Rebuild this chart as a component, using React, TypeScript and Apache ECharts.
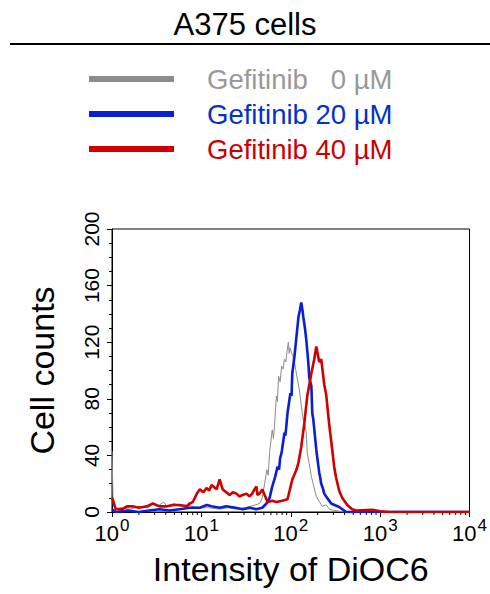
import React, { useEffect, useRef } from "react";
import * as echarts from "echarts";

const FONT = "'Liberation Sans', Arial, sans-serif";

const titleText = "A375 cells";
const xAxisTitle = "Intensity of DiOC6";
const yAxisTitle = "Cell counts";
const seriesNames = ["Gefitinib   0 µM", "Gefitinib 20 µM", "Gefitinib 40 µM"];
const seriesColors = ["#8c8c8c", "#0a1fd0", "#d00000"];
const legendTextColors = ["#999999", "#0033cc", "#cc0000"];

// [intensity, cell count]
const gray0: number[][] = [
  [1.0, 43], [1.03, 5], [1.1, 2], [1.3, 3], [1.6, 2], [2.0, 4], [2.5, 3], [2.9, 6], [3.1, 4], [3.4, 5],
  [3.8, 7], [4.1, 4], [4.4, 5], [5.0, 6], [5.7, 4], [6.9, 5], [8.0, 4], [9.6, 3], [12, 3], [16, 2],
  [20, 3], [25, 2], [30, 3], [35, 4], [40, 5], [45, 6], [48, 10], [51, 20], [54, 30], [56, 26], [58, 42],
  [62, 58], [64, 52], [66, 62], [69, 82], [71, 78], [73, 96], [76, 92], [79, 103], [82, 101], [85, 108], [88, 106],
  [91, 114], [94, 120], [96, 112], [98, 116], [101.5, 113], [106, 110], [108, 104], [110, 106], [114, 100], [118.5, 94],
  [125, 86], [131, 75], [138, 65], [142, 63], [149, 56], [153, 42], [161, 34], [170, 25],
  [178, 20], [193, 11], [210, 7], [225, 4], [249, 5], [270, 2], [291, 1.5], [320, 1], [376, 0],
  [10000, 0],
];

const blue20: number[][] = [
  [1.0, 2], [1.1, 0], [1.5, 1], [2.0, 0], [2.6, 1], [3.4, 2], [4.4, 1], [5.7, 2], [7.4, 3],
  [9.6, 3], [11.5, 5], [13, 4], [16, 3], [19, 4], [24, 3], [29, 2], [35, 3], [41, 2], [48, 3],
  [53.5, 6], [58, 10], [62, 18], [67, 25], [71, 32], [74, 30], [76, 38], [79, 42], [85, 56], [87, 54], [89, 60],
  [92, 70], [99, 84], [102, 82], [104, 98], [110, 110], [115, 122], [122, 138], [126, 142], [131, 148],
  [135, 143], [138, 138], [144, 130], [149, 122], [157, 106], [161, 95], [170, 89], [174, 70],
  [179, 65], [193, 44], [208, 28], [214, 24], [219, 20], [228, 17], [237, 13], [249, 11], [283, 6], [348, 3.5],
  [417, 0], [10000, 0],
];

const red40: number[][] = [
  [1.0, 10], [1.03, 8], [1.1, 2], [1.3, 2], [1.47, 4], [1.7, 4], [2.0, 3], [2.46, 4], [2.86, 6],
  [3.4, 4], [4.1, 4], [4.9, 5], [5.7, 5], [6.9, 4], [7.4, 6], [8.0, 7], [8.9, 13], [9.6, 16], [10.5, 14],
  [11.5, 17], [12.2, 15], [13, 19], [14.8, 16], [16, 23], [17.3, 16], [19, 14], [20.7, 12], [22.5, 14],
  [24.7, 13], [26.5, 11], [28.9, 12], [32, 13], [34.6, 11], [37, 13], [39.3, 16], [41.4, 18], [42.4, 12], [44.7, 13],
  [48, 16], [51, 12], [55, 7], [62, 8], [69, 7], [80, 8], [92, 9], [104, 23], [116, 30],
  [122, 35], [131, 46], [142, 63], [153, 82], [170, 98], [183, 108], [193, 117], [200, 112],
  [208, 106], [219, 108], [237, 90], [249, 83], [269, 62], [291, 44], [306, 32], [322, 24],
  [348, 15], [376, 10], [428, 5], [486, 2], [540, 1], [812, 1.5], [1000, 0.5], [1256, 0],
  [10000, 0],
];

const xMinorTicks = [
  2, 3, 4, 5, 6, 7, 8, 9,
  20, 30, 40, 50, 60, 70, 80, 90,
  200, 300, 400, 500, 600, 700, 800, 900,
  2000, 3000, 4000, 5000, 6000, 7000, 8000, 9000,
];

export default function App() {
  const ref = useRef<HTMLDivElement>(null);
  useEffect(() => {
    if (!ref.current) return;
    const chart = echarts.init(ref.current, null, { renderer: "svg" });
    const dataSets = [gray0, blue20, red40];
    const widths = [1, 2.6, 2.6];
    chart.setOption({
      animation: false,
      backgroundColor: "#ffffff",
      textStyle: { fontFamily: FONT },
      title: {
        text: titleText,
        left: "center",
        top: 4,
        textStyle: { fontSize: 31, fontWeight: "normal", color: "#000", fontFamily: FONT },
      },
      legend: {
        orient: "vertical",
        left: 84,
        top: 59,
        icon: "rect",
        itemWidth: 85,
        itemHeight: 6,
        itemGap: 5,
        textStyle: { fontSize: 27.5, fontFamily: FONT, padding: [0, 0, 0, 28], lineHeight: 30 },
        data: seriesNames.map((n, i) => ({ name: n, textStyle: { color: legendTextColors[i] } })),
      },
      graphic: [
        {
          type: "line",
          shape: { x1: 10, y1: 44, x2: 490, y2: 44 },
          style: { stroke: "#000", lineWidth: 2 },
        },
      ],
      grid: {
        left: 112,
        right: 18,
        top: 229,
        bottom: 82,
        show: true,
        borderColor: "#000",
        borderWidth: 1,
        backgroundColor: "transparent",
      },
      xAxis: {
        type: "log",
        logBase: 10,
        min: 1,
        max: 10000,
        name: xAxisTitle,
        nameLocation: "middle",
        nameGap: 40,
        nameTextStyle: { fontSize: 34, color: "#000", fontFamily: FONT },
        axisLine: { lineStyle: { color: "#000", width: 1 } },
        axisTick: { show: true, length: 5, lineStyle: { color: "#000" } },
        splitLine: { show: false },
        axisLabel: {
          margin: 5,
          color: "#000",
          formatter: (v: number) => `{b|10}{s|${Math.round(Math.log10(v))}}`,
          rich: {
            b: { fontSize: 22, fontFamily: FONT, color: "#000", verticalAlign: "bottom" },
            s: { fontSize: 17, fontFamily: FONT, color: "#000", verticalAlign: "bottom", padding: [0, 0, 10, 1] },
          },
        },
      },
      yAxis: {
        type: "value",
        min: 0,
        max: 200,
        interval: 40,
        name: yAxisTitle,
        nameLocation: "middle",
        nameGap: 53,
        nameTextStyle: { fontSize: 34, color: "#000", fontFamily: FONT },
        axisLine: { show: true, lineStyle: { color: "#000", width: 1 } },
        axisTick: { show: true, length: 5, lineStyle: { color: "#000" } },
        minorTick: { show: true, splitNumber: 4, length: 3, lineStyle: { color: "#000" } },
        splitLine: { show: false },
        axisLabel: {
          rotate: 90,
          margin: 10,
          color: "#000",
          fontSize: 21,
          fontFamily: FONT,
        },
      },
      series: [
        ...dataSets.map((d, i) => ({
          name: seriesNames[i],
          type: "line",
          data: d,
          symbol: "none",
          color: seriesColors[i],
          lineStyle: { color: seriesColors[i], width: widths[i] },
          z: 2 + i,
        })),
        {
          type: "custom",
          silent: true,
          clip: false,
          data: xMinorTicks.map((v) => [v, 0]),
          renderItem: (params: any, api: any) => {
            const p = api.coord([api.value(0), 0]);
            return {
              type: "line",
              shape: { x1: p[0], y1: p[1], x2: p[0], y2: p[1] + 3 },
              style: { stroke: "#000", lineWidth: 1 },
            };
          },
          z: 1,
        },
      ],
    });
    return () => chart.dispose();
  }, []);
  return (
    <div
      ref={ref}
      style={{ position: "fixed", left: 0, top: 0, width: 490, height: 594 }}
    />
  );
}
